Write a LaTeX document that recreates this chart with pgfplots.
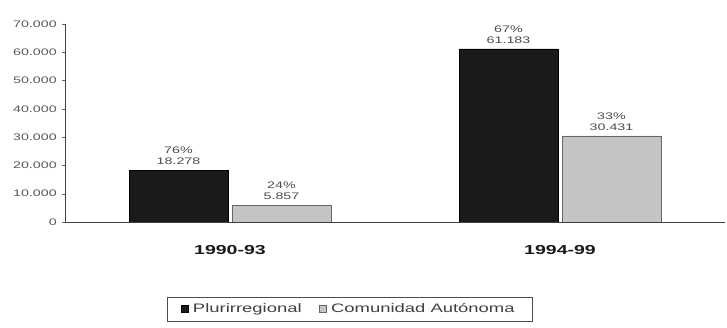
\documentclass[border=0pt]{standalone}
\usepackage{pgfplots}
\pgfplotsset{compat=1.18}
\usepackage{graphicx}
\usepackage{fontspec}
\setmainfont{Liberation Sans}
\definecolor{barblack}{HTML}{1A1A1A}
\definecolor{bargrey}{HTML}{C4C4C4}
\newcommand\hs[1]{\scalebox{1.5}[1]{#1}}
\begin{document}
\begin{tikzpicture}
\useasboundingbox (-65pt,-106pt) rectangle (662pt,222pt);
\begin{axis}[
  at={(0,0)}, anchor=south west,
  scale only axis, width=660pt, height=198pt,
  xmin=-0.5, xmax=1.5, ymin=0, ymax=70000,
  ybar=4pt, bar width=99pt,
  axis lines=left, axis line style={-, draw=black!75, line width=0.8pt},
  xtick={0,1}, xticklabels={1990-93,1994-99},
  x tick label style={font=\fontsize{13}{14}\selectfont\bfseries, text=black!90, xscale=1.5, yshift=-17pt},
  major x tick style={draw=none},
  extra x ticks={0.5}, extra x tick labels={},
  extra x tick style={major tick length=4pt, tick style={draw=black!60}},
  ytick={0,10000,...,70000},
  y tick label style={font=\fontsize{9.5}{10}\selectfont, text=black!65, xscale=1.5},
  /pgf/number format/.cd, 1000 sep={.}, assume math mode=true, /pgfplots/.cd,
  scaled y ticks=false,
  tick align=outside, major tick length=3pt,
  ytick style={draw=black!60},
  point meta=explicit symbolic,
  nodes near coords,
  nodes near coords style={font=\fontsize{9.5}{11}\selectfont, align=center, text=black!70, xscale=1.5, yshift=2pt},
  legend columns=2,
  legend style={at={(0.432,-0.44)}, anchor=center, draw=black!70,
    font=\fontsize{12.3}{13}\selectfont, text=black!75, inner xsep=13pt, inner ysep=5pt,
    nodes={inner xsep=5pt},
    /tikz/every even column/.append style={column sep=12pt}},
  legend image code/.code={\draw[#1] (0pt,-3.5pt) rectangle (7pt,3.5pt);},
]
\addplot[fill=barblack, draw=black] coordinates {(0,18278) [76\%\\18.278] (1,61183) [67\%\\61.183]};
\addlegendentry{\hs{Plurirregional}}
\addplot[fill=bargrey, draw=black!60] coordinates {(0,5857) [24\%\\5.857] (1,30431) [33\%\\30.431]};
\addlegendentry{\hs{Comunidad Autónoma}}
\end{axis}
\end{tikzpicture}
\end{document}
